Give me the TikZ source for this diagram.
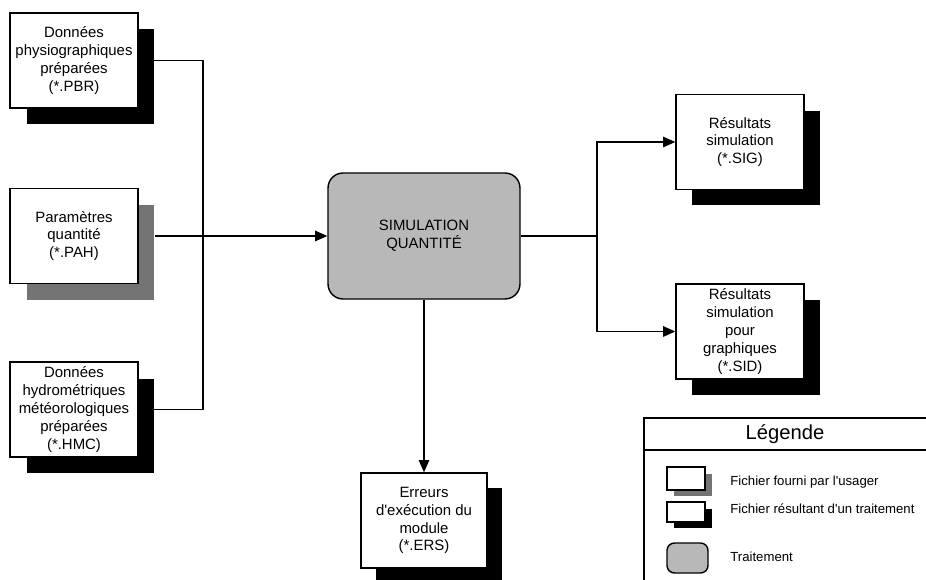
\documentclass[tikz,border=0pt]{standalone}
\usepackage{fontspec}
\setmainfont{Liberation Sans}
\usetikzlibrary{arrows, arrows.meta, shadows, positioning, calc}

\begin{document}
\begin{tikzpicture}[x=0.02cm, y=-0.02cm,
    fichier/.style={draw, fill=white, line width=0.8pt, minimum width=2.56cm, minimum height=1.9cm, inner sep=1pt, align=center, font=\fontsize{8.5}{10.2}\selectfont},
    noir/.style={drop shadow={shadow xshift=#1, shadow yshift=-#1, fill=black, opacity=1}},
    gris/.style={drop shadow={shadow xshift=#1, shadow yshift=-#1, fill=black!55, opacity=1}},
    traitement/.style={draw, fill=black!28, rounded corners=0.3cm, line width=0.8pt, minimum width=3.84cm, minimum height=2.52cm, align=center, font=\fontsize{8.5}{10.2}\selectfont},
    petit/.style={draw, fill=white, line width=0.8pt, minimum width=0.76cm, minimum height=#1, inner sep=0pt},
    legtexte/.style={anchor=west, inner sep=0pt, font=\fontsize{7.5}{9}\selectfont},
    lien/.style={line width=0.8pt},
    fleche/.style={lien, -{Triangle[length=7pt, width=6pt]}}]
    \useasboundingbox (0,0) rectangle (926,580);
    % fichiers d'entree
    \node[fichier, noir=0.33cm] (pbr) at (74,60.5) {Données\\physiographiques\\préparées\\(*.PBR)};
    \node[fichier, gris=0.33cm] (pah) at (74,236) {Paramètres\\quantité\\(*.PAH)};
    \node[fichier, noir=0.33cm] (hmc) at (74,409.5) {Données\\hydrométriques\\météorologiques\\préparées\\(*.HMC)};
    % traitement
    \node[traitement] (sim) at (424,236) {SIMULATION\\QUANTITÉ};
    % fichiers resultats
    \node[fichier, noir=0.32cm] (sig) at (740,142) {Résultats\\simulation\\(*.SIG)};
    \node[fichier, noir=0.32cm] (sid) at (740,331.5) {Résultats\\simulation\\pour\\graphiques\\(*.SID)};
    \node[fichier, noir=0.3cm, minimum width=2.52cm] (ers) at (424,520.5) {Erreurs\\d\textquotesingle exécution du\\module\\(*.ERS)};
    % liens
    \coordinate (jg) at (203,236);
    \coordinate (jd) at (597,236);
    \draw[lien] (pbr.east) -| (jg);
    \draw[lien] (hmc.east) -| (jg);
    \draw[fleche] ([xshift=0.33cm]pah.east) -- (sim.west);
    \draw[lien] (sim.east) -- (jd);
    \draw[fleche] (jd) |- (sig.west);
    \draw[fleche] (jd) |- (sid.west);
    \draw[fleche] (sim.south) -- (ers.north);
    % legende
    \draw[lien] (644,600) |- (940,418);
    \draw[lien] (644,450) -- (940,450);
    \node[font=\fontsize{11.5}{13}\selectfont] (titre) at (785,434) {Légende};
    \node[petit=0.46cm, gris=0.13cm] (l1) at (686,478.5) {};
    \node[petit=0.4cm, noir=0.13cm] (l2) at (686,512) {};
    \node[petit=0.6cm, minimum width=0.82cm, fill=black!28, rounded corners=0.15cm] (l3) at (687.5,558) {};
    \node[legtexte] (t1) at (730,482) {Fichier fourni par l\textquotesingle usager};
    \node[legtexte] (t2) at (730,509) {Fichier résultant d\textquotesingle un traitement};
    \node[legtexte] (t3) at (730,557) {Traitement};
\end{tikzpicture}
\end{document}
